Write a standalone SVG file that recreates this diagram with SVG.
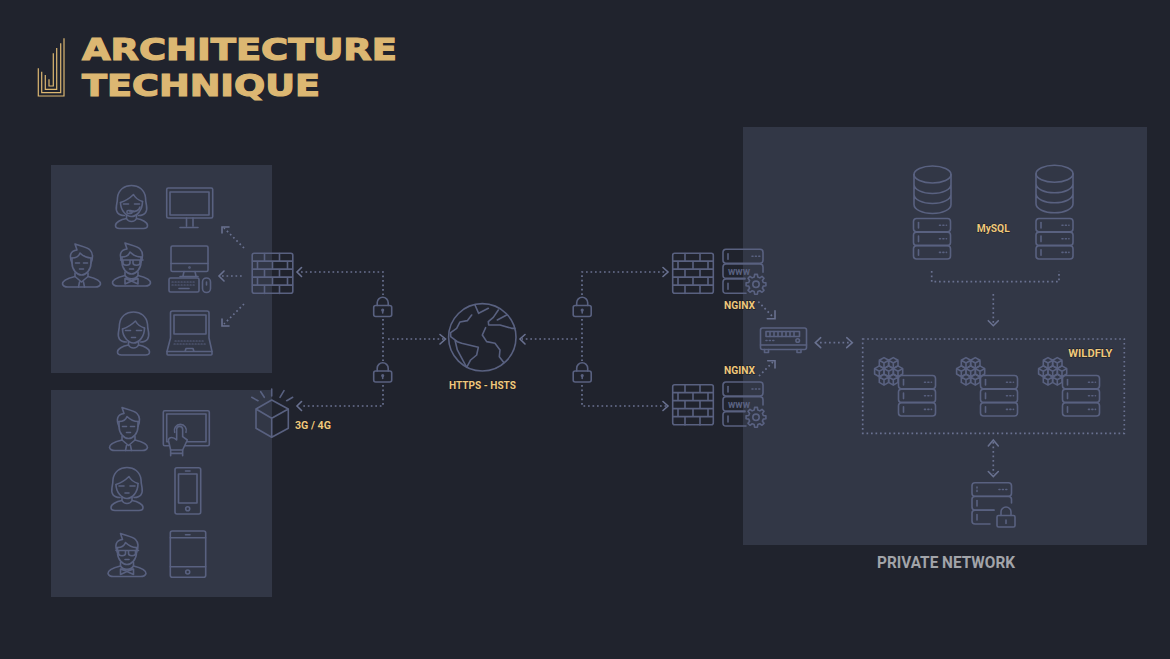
<svg xmlns="http://www.w3.org/2000/svg" width="1170" height="659" viewBox="0 0 1170 659">
<style>
.bg{fill:#20232d}
.panel{fill:#323746}
.ic{fill:none;stroke:#596180;stroke-width:1.6;stroke-linecap:round;stroke-linejoin:round}
.dot{fill:none;stroke:#697190;stroke-width:1.7;stroke-dasharray:1.7 2.8}
.kd{fill:none;stroke:#596180;stroke-width:1.2;stroke-dasharray:1.2 1.8}
.head{fill:none;stroke:#697190;stroke-width:1.6;stroke-linecap:round;stroke-linejoin:miter}
.lbl{font-family:"Roboto","Liberation Sans",sans-serif;font-weight:700;fill:#efc87c;stroke:#15171e;stroke-width:.8;paint-order:stroke}
.title{font-family:"DejaVu Sans",sans-serif;font-weight:700;font-size:30px;fill:#dcb772;stroke:#dcb772;stroke-width:1.2}
.logo{fill:none;stroke:#dcb772;stroke-width:1.2}
.www{font-family:"Roboto",sans-serif;font-weight:700;font-size:10px;fill:#596180}
</style>
<defs>
<g id="firewall"><rect x=".7" y=".7" width="40.600" height="40" rx="2"/><path d="M1 8.600H41M1 16.600H41M1 24.600H41M1 32.600H41M13 1V8.600M28 1V8.600M6 8.600V16.600M21 8.600V16.600M36 8.600V16.600M13 16.600V24.600M28 16.600V24.600M6 24.600V32.600M21 24.600V32.600M36 24.600V32.600M13 32.600V41M28 32.600V41"/></g>
<g id="row"><rect x="0" y="0" width="37" height="13.300" rx="3"/><path d="M5 4V9.500"/><path d="M26 6.700H33" stroke-dasharray="1 2.400"/></g>
<g id="stack"><use href="#row"/><use href="#row" y="13.600"/><use href="#row" y="27.200"/></g>
<g id="gear"><path d="M7.280-1.810L9.900-1.390 9.900 1.390 7.280 1.810 6.430 3.860 7.990 6.020 6.020 7.990 3.860 6.430 1.810 7.280 1.390 9.900-1.390 9.900-1.810 7.280-3.860 6.430-6.020 7.990-7.990 6.020-6.430 3.860-7.280 1.810-9.900 1.390-9.900-1.390-7.280-1.810-6.430-3.860-7.990-6.020-6.020-7.990-3.860-6.430-1.810-7.280-1.390-9.900 1.390-9.900 1.810-7.280 3.860-6.430 6.020-7.990 7.990-6.020 6.430-3.860Z"/><circle r="3.200"/></g>
<g id="wwwsrv"><rect x="0" y="0" width="40" height="14" rx="3"/><path d="M5 4.500V10"/><path d="M29 7H37" stroke-dasharray="1 2.400"/><path d="M22 29H3Q0 29 0 26V17.700Q0 14.700 3 14.700H37Q40 14.700 40 17.700V23"/><path d="M23 44H3Q0 44 0 41V32.700Q0 29.700 3 29.700H22M5 34V40"/></g>
<g id="lock"><rect x=".7" y="9" width="18" height="11" rx="2"/><path d="M4.200 9V6.200a5.500 5.500 0 0 1 11 0V9M9.700 13.500V16.500"/><circle cx="9.700" cy="13.600" r=".8"/></g>
<g id="woman"><path d="M10 30C3 30 1 26 2 20 3 15 3 14 3 12 4 4 10 0 17 0 24 0 30 4 31 12 31 14 31 15 32 20 33 26 31 30 24 30"/><path d="M6 17C12 15 16 12 19 9 21 13 25 15 28 16"/><path d="M6 17C6 25 12 31 17 31 22 31 28 25 28 16"/><path d="M12 29V33C6 34 1 37 1 40 1 42 3 43 5 43H29C31 43 33 42 33 40 33 37 28 34 22 33V29M12 33C14 37 20 37 22 33"/><path d="M9 18.500H14M20 18.500H25M15 25.500H19"/></g>
<g id="man"><path d="M10 15V20C10 27 15 32 19.500 32 24 32 29 27 29 20V15"/><path d="M10 20C7 13 8 8 15 7L13 1C18 3 25 4 28 7 31 10 31 15 29 20M10 15C14 15 17 13 18 10 21 13 25 15 29 15"/><path d="M13 30V33.500C7 35 0 37 .5 41 1 43 3 44 6 44H33C36 44 38 43 38.500 41 39 37 32 35 26 33.500V30"/><path d="M13 33.500L19.500 39 26 33.500M17.500 39L16.500 44M21.500 39L22.500 44"/><path d="M13.500 20H17.500M21.500 20H25.500M17.500 26H21.500"/></g>
<g id="mang"><path d="M10 15V20C10 27 15 32 19.500 32 24 32 29 27 29 20V15"/><path d="M10 20C7 13 8 8 15 7L13 1C18 3 25 4 28 7 31 10 31 15 29 20M10 15C14 15 17 13 18 10 21 13 25 15 29 15"/><path d="M13 30V33.500C7 35 0 37 .5 41 1 43 3 44 6 44H33C36 44 38 43 38.500 41 39 37 32 35 26 33.500V30"/><path d="M13 33.500C16 38 23 38 26 33.500M19.500 39L13 36.500V42L19.500 39 26 36.500V42Z"/><path d="M8.500 18H31M11 18V21C11 24 18 24 18 21V18M21 18V21C21 24 28 24 28 21V18M17.500 27H21.500"/></g>
<g id="cube"><path d="M0-5.400L4.700-2.700V2.700L0 5.400-4.700 2.700V-2.700ZM-4.700-2.700L0 0 4.700-2.700M0 0V5.400"/></g>
<g id="cluster"><use href="#cube" x="10" y="6"/><use href="#cube" x="19.300" y="6"/><use href="#cube" x="5.300" y="14.300"/><use href="#cube" x="14.700" y="14.300"/><use href="#cube" x="24" y="14.300"/><use href="#cube" x="10" y="22.700"/><use href="#cube" x="19.300" y="22.700"/></g>
<g id="cyl"><ellipse cx="19" cy="9" rx="18.500" ry="8.500"/><path d="M.5 9V39C.5 44 9 48 19 48 29 48 37.500 44 37.500 39V9M.5 19C.5 24 9 28 19 28 29 28 37.500 24 37.500 19M.5 29C.5 34 9 38 19 38 29 38 37.500 34 37.500 29"/></g>
</defs>

<rect class="bg" width="1170" height="659"/>
<rect class="panel" x="51" y="165" width="221" height="208"/>
<rect class="panel" x="51" y="390" width="221" height="207"/>
<rect class="panel" x="743" y="127" width="404" height="418"/>

<g id="logo"><path class="logo" d="M64 38.300V96H38.300V68.300M60.700 43.300V92.700H41.700V71.700M56.700 48V89.300H45.300V75M53.300 53.300V86H49V79.300"/></g>
<g id="title">
<text class="title" x="82" y="59.500" textLength="315" lengthAdjust="spacingAndGlyphs">ARCHITECTURE</text>
<text class="title" x="82" y="96" textLength="238" lengthAdjust="spacingAndGlyphs">TECHNIQUE</text>
</g>

<g id="connectors">
<path class="dot" d="M301 272H383V295M383 319V361M383 385V406H301M388 339H445M577 339H522M582 295V272H668M582 319V361M582 385V406H668"/>
<path class="dot" d="M244 248L224 228M241.700 276H221M244 304L224 324"/>
<path class="dot" d="M758.300 301.700L773 317M759 376L773 362M820 342.700H850M931.700 271V281.700H1059V271M993.300 294V324M993.300 442V474"/>
<path class="head" d="M301.500 267.500L297 272 301.500 276.500M301.500 401.500L297 406 301.500 410.500M440 334.500L445.500 339 440 344M525 334.500L520 339 525 344M663 267.500L668 272 663 276.500M663 401.500L668 406 663 410.500"/>
<path class="head" d="M229 227H222V233M224 271L219 276 224 281M222 319V326H229"/>
<path class="head" d="M775 310.700V318.700H767.300M767.700 360.700H775V368M820.700 337.700L815.300 342.700 820.700 347.700M846.700 337.700L852.300 342.700 846.700 347.700M988.300 320.700L993.300 325.700 998.300 320.700M988.300 446L993.300 440 998.300 446M988.300 471.500L993.300 476.500 998.300 471.500"/>
</g>

<g id="client-group-1" class="ic">
<g id="user-support"><use href="#woman" transform="translate(114.500 185.500)"/><path d="M140 207C139 211 136 212 130 212"/><rect x="127" y="210.500" width="5" height="3" rx="1"/></g>
<g id="monitor"><rect x="166.700" y="188" width="46" height="30" rx="1.500"/><rect x="170" y="192" width="39" height="23"/><path d="M186.500 218V226M193 218V226M180 227.500H198"/></g>
<use id="user-man" href="#man" transform="translate(62 243)"/>
<use id="user-glasses" href="#mang" transform="translate(112 242)"/>
<g id="desktop"><rect x="171" y="246" width="37" height="25.500" rx="1.500"/><path d="M171 263.500H208M184 271.500L183 276M195 271.500L196 276M180 276.500H198"/><circle cx="189.500" cy="267.500" r=".5"/><rect x="169" y="278" width="30" height="14" rx="1.500"/><path class="kd" d="M172 282H196M172 285H196"/><path d="M179 288.500H189"/><rect x="202.500" y="278" width="8" height="14.500" rx="4"/><path d="M206.500 282V285"/></g>
<use id="user-woman" href="#woman" transform="translate(116.500 312)"/>
<g id="laptop"><path d="M170.500 338V313Q170.500 311 172.500 311H207Q209 311 209 313V338L212 351.500V354Q212 355 211 355H168Q167 355 167 354V351.500Z"/><rect x="174" y="315" width="32" height="19"/><path d="M167 351.500H212M185 351.500L186 348.500H193L194 351.500"/><path class="kd" d="M175 341H205M174 344H206"/></g>
<use id="fw-clients" href="#firewall" transform="translate(251.500 252.500)"/>
</g>

<g id="client-group-2" class="ic">
<use id="user-man-2" href="#man" transform="translate(109 406.500)"/>
<g id="touch-tablet"><rect x="163.300" y="410.700" width="46" height="35" rx="1.500"/><rect x="166.700" y="414" width="39.300" height="27.700"/>
<g transform="translate(50 385) scale(.3333)" style="stroke-width:4.800"><path d="M374 142a18 18 0 1 1 34 0"/><path style="fill:#323746" d="M380 165V133a9 9 0 0 1 18 0V155L412 165 398 195H362L355 165C358 155 370 155 380 165Z"/><path d="M362 195V212M398 195V212M362 205H398"/></g></g>
<use id="user-woman-2" href="#woman" transform="translate(110 467.500)"/>
<g id="phone"><rect x="175" y="467.700" width="25.700" height="46.300" rx="2"/><rect x="178.500" y="474" width="18.500" height="29"/><path d="M185.500 471H190"/><circle cx="187.700" cy="508.700" r="2"/></g>
<use id="user-glasses-2" href="#mang" transform="translate(107.500 532.500)"/>
<g id="ipad"><rect x="170.300" y="531" width="35.400" height="46.300" rx="2"/><path d="M170.300 537.700H205.700M170.300 566.700H205.700M185.500 534.700H190"/><circle cx="187.700" cy="572" r="2"/></g>
<g id="cell-tower"><path d="M271.700 400L288.300 409V428.300L271.700 437.300 256 428.300V409ZM256 409L271.700 418.300 288.300 409M271.700 418.300V437.300"/><path d="M271.700 389V396M260.700 391.700L264.300 397.300M251.700 397.300L258 400.700M284 390.700L280 397.300M292.700 397.300L286.700 400.700"/></g>
</g>
<text id="label-3g" class="lbl" x="295" y="429" font-size="10.500" textLength="36" lengthAdjust="spacingAndGlyphs">3G / 4G</text>

<g id="locks" class="ic">
<use href="#lock" transform="translate(373 296.500)"/>
<use href="#lock" transform="translate(373 362)"/>
<use href="#lock" transform="translate(572.500 296.500)"/>
<use href="#lock" transform="translate(572.500 362)"/>
</g>

<g id="internet">
<g class="ic"><circle cx="482.300" cy="337.300" r="33.700"/>
<g transform="translate(360 260) scale(.3333)" style="stroke-width:4.800">
<path d="M345 135L356 160 385 145M415 150L400 172 385 185 386 195 420 195 455 205 465 205M440 165L412 180M335 165L322 182 300 186 290 205 272 218 272 230 292 245 305 250 355 262 350 285 332 300 320 322 306 296 292 270 285 240"/>
<path d="M377 203L367 225 380 245 405 250 420 270 418 290 432 308"/></g></g>
<text class="lbl" x="449" y="388.500" font-size="11" textLength="67" lengthAdjust="spacingAndGlyphs">HTTPS - HSTS</text>
</g>

<g id="nginx-1">
<g class="ic"><use href="#firewall" transform="translate(672 252.500)"/><use href="#wwwsrv" transform="translate(723 249.300)"/><use href="#gear" transform="translate(756 284.300)"/></g>
<text class="www" x="728" y="275">www</text>
<text class="lbl" x="724" y="309.300" font-size="11" textLength="31" lengthAdjust="spacingAndGlyphs">NGINX</text>
</g>
<g id="nginx-2">
<g class="ic"><use href="#firewall" transform="translate(672 384)"/><use href="#wwwsrv" transform="translate(723 382)"/><use href="#gear" transform="translate(756 417.300)"/></g>
<text class="www" x="728" y="407.500">www</text>
<text class="lbl" x="724" y="374" font-size="11" textLength="31" lengthAdjust="spacingAndGlyphs">NGINX</text>
</g>

<g id="load-balancer" class="ic" transform="translate(760 328)">
<rect x=".5" y="0" width="46" height="21.500" rx="2"/><rect x="6" y="3.500" width="33.500" height="5"/><path d="M10 3.500V8.500M14 3.500V8.500M18 3.500V8.500M22 3.500V8.500M26 3.500V8.500M30 3.500V8.500M34 3.500V8.500"/><path d="M6 12.500H14" stroke-dasharray="1 2.400"/><circle cx="37.700" cy="12.500" r="1.800"/><path d="M.5 17H46.500"/><path d="M4.500 21.500V24.500H8.500V21.500M37 21.500V24.500H41V21.500"/>
</g>

<g id="mysql">
<g class="ic"><use href="#cyl" transform="translate(913.500 165.500)"/><use href="#cyl" transform="translate(1035.500 164.800)"/><use href="#stack" transform="translate(913.500 218.500)"/><use href="#stack" transform="translate(1036 218.500)"/></g>
<text class="lbl" x="976.700" y="232" font-size="11.500" textLength="33" lengthAdjust="spacingAndGlyphs">MySQL</text>
</g>

<g id="wildfly">
<rect class="dot" x="862.700" y="339" width="261.600" height="94.300"/>
<g class="ic"><use href="#cluster" transform="translate(874 357)"/><use href="#stack" transform="translate(898.500 375.500)"/><use href="#cluster" transform="translate(956 357)"/><use href="#stack" transform="translate(980.500 375.500)"/><use href="#cluster" transform="translate(1038 357)"/><use href="#stack" transform="translate(1062.500 375.500)"/></g>
<text class="lbl" x="1068.300" y="357.300" font-size="11.500" textLength="44" lengthAdjust="spacingAndGlyphs">WILDFLY</text>
</g>

<g id="secure-storage" class="ic">
<rect x="972" y="482.700" width="39.500" height="13.600" rx="3"/><path d="M977 487V492M999 489.500H1007" stroke-dasharray="1 2.400"/>
<path d="M1011.500 503V499.300Q1011.500 496.500 1008.500 496.500H975Q972 496.500 972 499.300V507Q972 510 975 510H994"/><path d="M977 500.500V506"/>
<path d="M994 510.300H975Q972 510.300 972 513V521Q972 524 975 524H990M977 514.500V520"/>
<rect x="997" y="515.500" width="18" height="11.500" rx="1.500"/><path d="M1001 515.500V512a5 5 0 0 1 10 0V515.500M1006 520V523.500"/>
</g>

<text id="private-network" x="877" y="567.500" font-family="Roboto,'Liberation Sans',sans-serif" font-weight="700" font-size="17" fill="#a2a4a9" textLength="138" lengthAdjust="spacingAndGlyphs">PRIVATE NETWORK</text>
</svg>
